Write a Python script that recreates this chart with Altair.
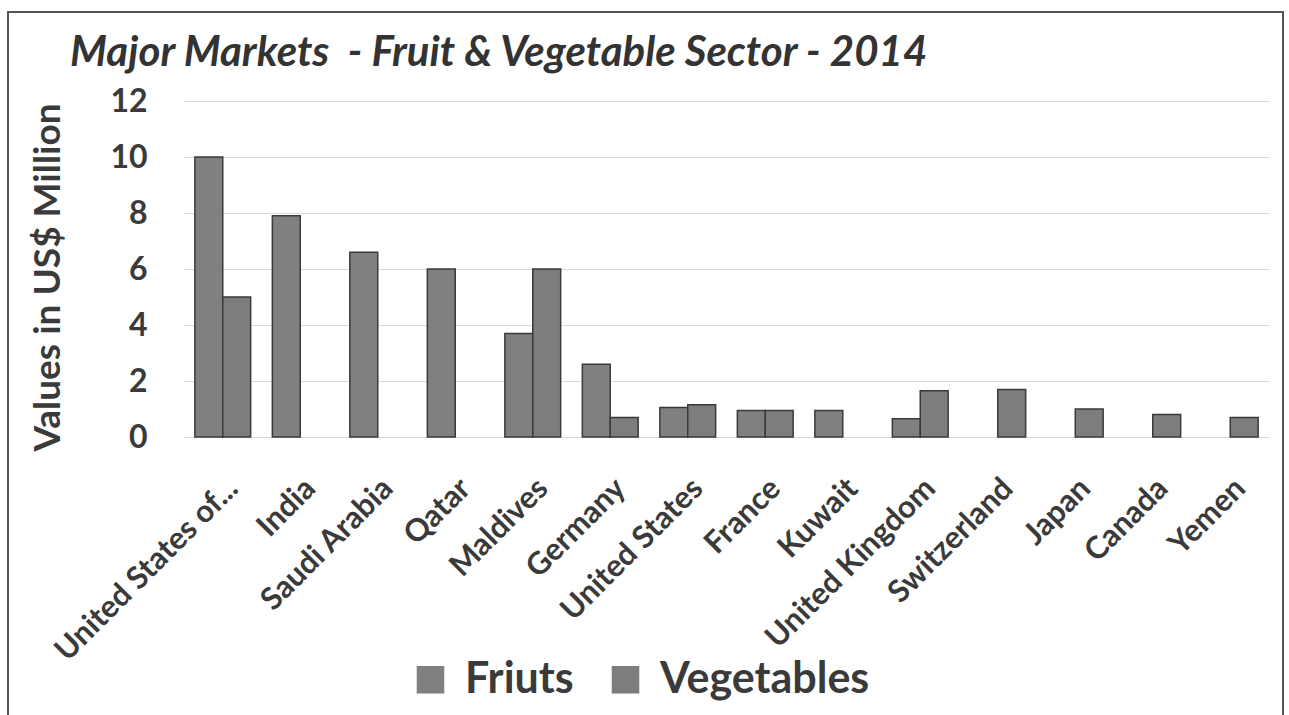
import altair as alt
import pandas as pd

countries = ["United States of...", "India", "Saudi Arabia", "Qatar", "Maldives",
             "Germany", "United States", "France", "Kuwait", "United Kingdom",
             "Switzerland", "Japan", "Canada", "Yemen"]
fruits = [10.0, 7.9, 6.6, 6.0, 3.7, 2.6, 1.05, 0.95, 0.95, 0.65, None, None, None, None]
vegetables = [5.0, None, None, None, 6.0, 0.7, 1.15, 0.95, None, 1.65, 1.7, 1.0, 0.8, 0.7]
series = ["Friuts", "Vegetables"]
y_ticks = [0, 2, 4, 6, 8, 10, 12]

rows = []
for c, f, v in zip(countries, fruits, vegetables):
    if f is not None:
        rows.append({"Country": c, "Series": series[0], "Value": f})
    if v is not None:
        rows.append({"Country": c, "Series": series[1], "Value": v})
df = pd.DataFrame(rows)

FONT = "Lato"
TXT = "#3a3a3a"

bars = alt.Chart(df).mark_bar(stroke="#3a3a3a", strokeWidth=1.5).encode(
    x=alt.X("Country:N", sort=countries, title=None,
            scale=alt.Scale(paddingInner=0.28, paddingOuter=0.14),
            axis=alt.Axis(labelAngle=315, labelFontSize=31, labelFontWeight="bold",
                          labelColor=TXT, labelFont=FONT, ticks=False, domain=False,
                          labelPadding=36, labelLimit=500)),
    xOffset=alt.XOffset("Series:N", scale=alt.Scale(domain=series, paddingInner=0)),
    y=alt.Y("Value:Q", title="Values in US$ Million",
            scale=alt.Scale(domain=[0, 12], nice=False),
            axis=alt.Axis(values=y_ticks, labelFontSize=32, labelFontWeight="bold",
                          labelColor=TXT, labelFont=FONT, ticks=False, domain=False,
                          labelPadding=37, gridColor="#d9d9d9", gridWidth=1.2,
                          titleFontSize=37, titleFontWeight="bold", titleColor=TXT,
                          titleFont=FONT, titleX=-136, titleY=176, titleAngle=270,
                          titleAlign="center", titleBaseline="middle")),
    color=alt.Color("Series:N", scale=alt.Scale(domain=series, range=["#808080", "#7d7d7d"]),
                    legend=alt.Legend(title=None, orient="none", direction="horizontal",
                                      legendX=225, legendY=557, symbolType="square",
                                      symbolSize=760, symbolStrokeWidth=0,
                                      labelFontSize=43, labelFontWeight="bold",
                                      labelColor=TXT, labelFont=FONT, labelOffset=13,
                                      columnPadding=30, labelLimit=600)),
)

border = alt.Chart(pd.DataFrame({"a": [0]})).mark_rect(
    filled=False, stroke="#555555", strokeWidth=2
).encode(x=alt.value(-176), x2=alt.value(1099), y=alt.value(-89), y2=alt.value(622))

chart = alt.layer(border, bars).properties(
    width=1085, height=336,
    background="white",
    title=alt.TitleParams("Major Markets\u00a0\u00a0- Fruit & Vegetable Sector - 2014",
                          anchor="start", frame="group", dx=-114, dy=97, fontSize=42,
                          font=FONT, fontStyle="italic", fontWeight="bold", color="#333333",
                          baseline="alphabetic", offset=0),
    autosize=alt.AutoSizeParams(type="none"),
    padding={"left": 184, "top": 101, "right": 20, "bottom": 278},
).configure_view(stroke=None)

chart.save("out.html", embed_options={"renderer": "svg", "actions": False})
